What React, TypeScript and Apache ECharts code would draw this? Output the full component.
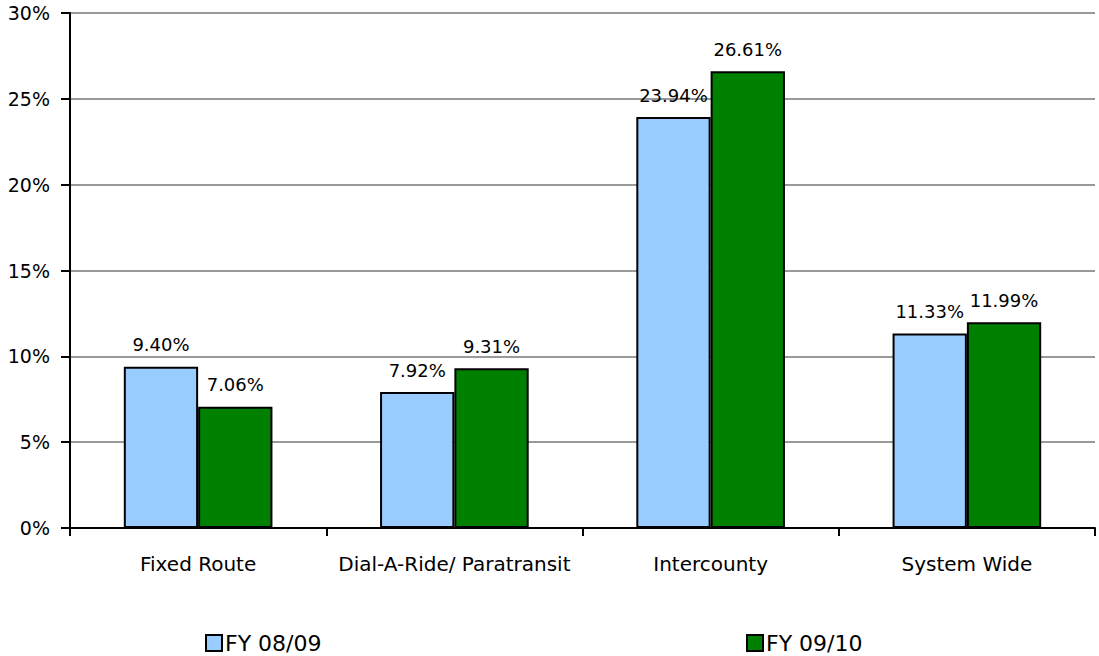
import React, { useEffect, useRef } from "react";
import * as echarts from "echarts";

const categories = ["Fixed Route", "Dial-A-Ride/ Paratransit", "Intercounty", "System Wide"];
const fy0809 = [9.4, 7.92, 23.94, 11.33];
const fy0910 = [7.06, 9.31, 26.61, 11.99];
const seriesNames = ["FY 08/09", "FY 09/10"];

const FONT = "'DejaVu Sans', 'Noto Sans', sans-serif";

export default function App() {
  const ref = useRef<HTMLDivElement>(null);

  useEffect(() => {
    if (!ref.current) return;
    const chart = echarts.init(ref.current, null, { renderer: "svg" });
    const label = {
      show: true,
      position: "top" as const,
      distance: 13,
      color: "#000",
      fontFamily: FONT,
      fontSize: 18,
      formatter: (p: any) => `${Number(p.value).toFixed(2)}%`,
    };
    const legendText = { fontFamily: FONT, fontSize: 22, color: "#000", padding: [0, 0, 0, -2] };
    chart.setOption({
      animation: false,
      backgroundColor: "#fff",
      grid: { left: 70, right: 4, top: 13, bottom: 128, containLabel: false },
      legend: [
        {
          data: [seriesNames[0]],
          left: 200,
          top: 627,
          itemWidth: 16,
          itemHeight: 16,
          icon: "rect",
          textStyle: legendText,
        },
        {
          data: [seriesNames[1]],
          left: 741,
          top: 627,
          itemWidth: 16,
          itemHeight: 16,
          icon: "rect",
          textStyle: legendText,
        },
      ],
      xAxis: {
        type: "category",
        data: categories,
        boundaryGap: true,
        axisLine: { show: true, lineStyle: { color: "#000", width: 2 } },
        axisTick: { show: true, length: 8, inside: false, lineStyle: { color: "#000", width: 2 } },
        axisLabel: { color: "#000", fontFamily: FONT, fontSize: 20, margin: 26, interval: 0 },
      },
      yAxis: {
        type: "value",
        min: 0,
        max: 30,
        interval: 5,
        axisLine: { show: true, lineStyle: { color: "#000", width: 2 } },
        axisTick: { show: true, length: 9, lineStyle: { color: "#000", width: 2 } },
        axisLabel: {
          color: "#000",
          fontFamily: FONT,
          fontSize: 19,
          margin: 20,
          formatter: (v: number) => `${v}%`,
        },
        splitLine: { show: true, lineStyle: { color: "#999", width: 2 } },
      },
      series: [
        {
          name: seriesNames[0],
          type: "bar",
          data: fy0809,
          barGap: "0%",
          barCategoryGap: "42%",
          itemStyle: { color: "#99CCFF", borderColor: "#000", borderWidth: 2 },
          label,
        },
        {
          name: seriesNames[1],
          type: "bar",
          data: fy0910,
          barGap: "0%",
          barCategoryGap: "42%",
          itemStyle: { color: "#008000", borderColor: "#000", borderWidth: 2 },
          label,
        },
      ],
    });
    return () => chart.dispose();
  }, []);

  return <div ref={ref} style={{ width: 1099, height: 656, position: "absolute", left: 0, top: 0 }} />;
}
